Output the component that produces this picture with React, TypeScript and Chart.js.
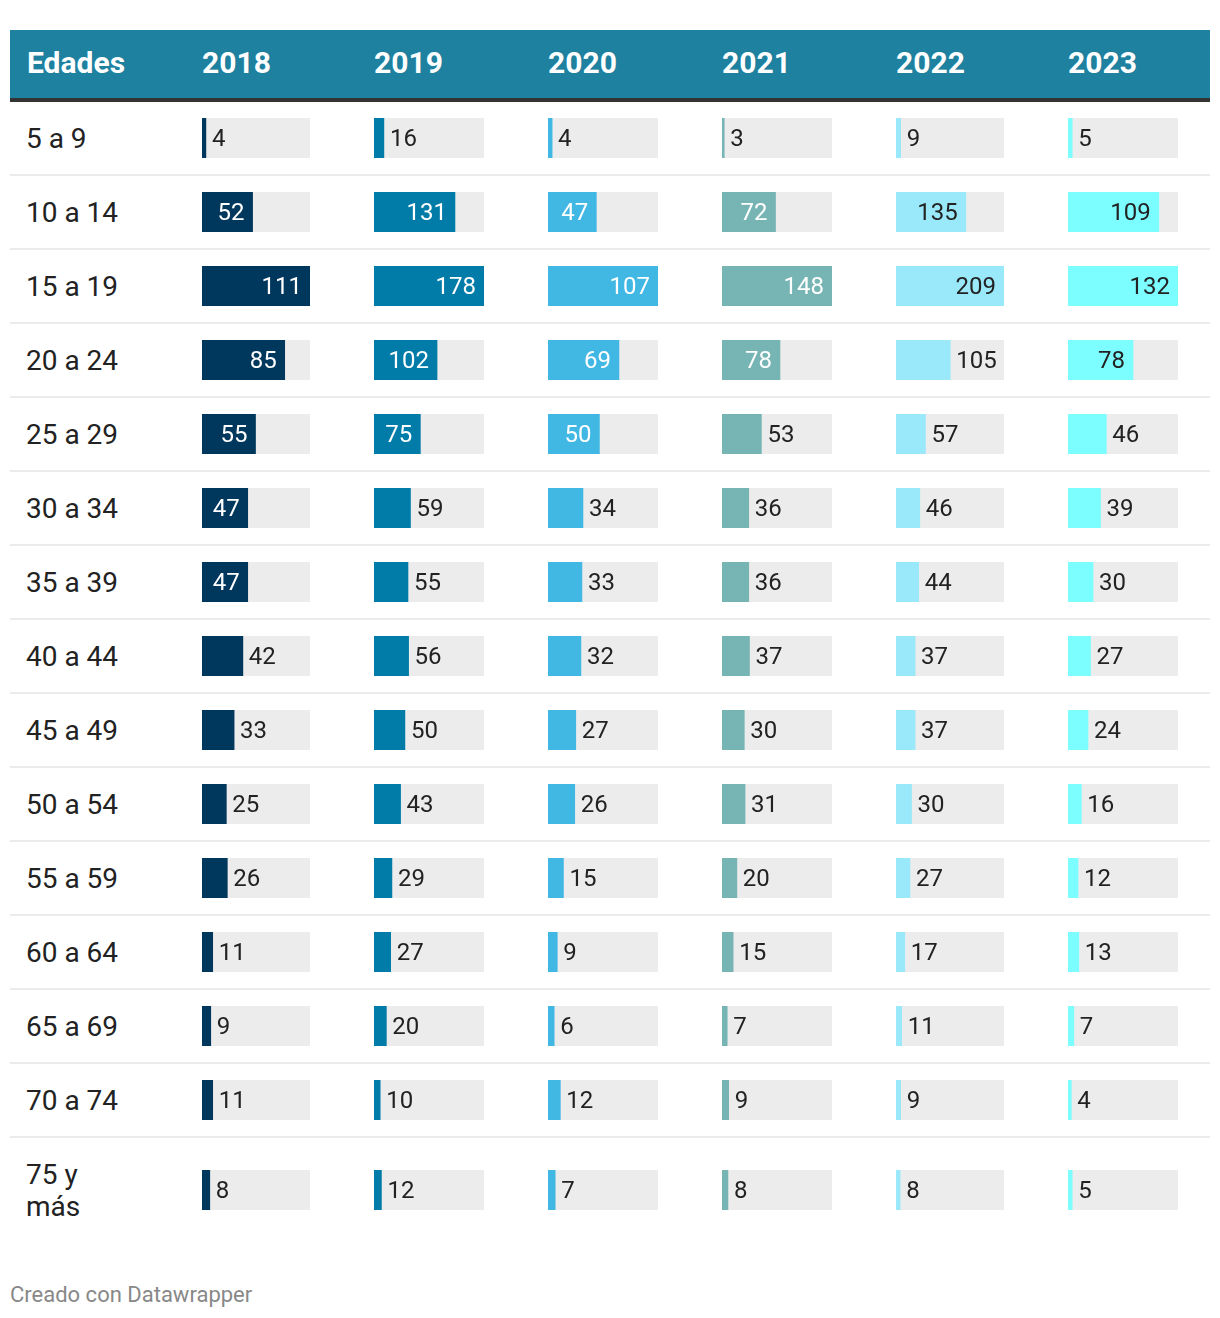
import React, { useEffect, useRef } from "react";
import { Chart, registerables } from "chart.js";

Chart.register(...registerables);

const ageGroups = [
  "5 a 9", "10 a 14", "15 a 19", "20 a 24", "25 a 29", "30 a 34", "35 a 39",
  "40 a 44", "45 a 49", "50 a 54", "55 a 59", "60 a 64", "65 a 69", "70 a 74", "75 y más",
];
const years = ["2018", "2019", "2020", "2021", "2022", "2023"];
const values2018 = [4, 52, 111, 85, 55, 47, 47, 42, 33, 25, 26, 11, 9, 11, 8];
const values2019 = [16, 131, 178, 102, 75, 59, 55, 56, 50, 43, 29, 27, 20, 10, 12];
const values2020 = [4, 47, 107, 69, 50, 34, 33, 32, 27, 26, 15, 9, 6, 12, 7];
const values2021 = [3, 72, 148, 78, 53, 36, 36, 37, 30, 31, 20, 15, 7, 9, 8];
const values2022 = [9, 135, 209, 105, 57, 46, 44, 37, 37, 30, 27, 17, 11, 9, 8];
const values2023 = [5, 109, 132, 78, 46, 39, 30, 27, 24, 16, 12, 13, 7, 4, 5];
const seriesByYear = [values2018, values2019, values2020, values2021, values2022, values2023];
const barColors = ["#00375c", "#017ba8", "#41b7e4", "#77b5b5", "#9ae9fb", "#7cfdff"];
const insideTextColors = ["#ffffff", "#ffffff", "#ffffff", "#ffffff", "#222222", "#222222"];

const FONT = "Roboto, 'Noto Sans', sans-serif";
const colWidths = [172, 174, 174, 174, 172, 142];
const barWidths = [108, 110, 110, 110, 108, 110];
const BAR_H = 40;
const LABEL_PAD = 8;

const valueLabelPlugin = {
  id: "valueLabel",
  afterDatasetsDraw(chart: any, _args: any, opts: any) {
    const meta = chart.getDatasetMeta(0);
    const bar = meta.data[0];
    if (!bar) return;
    const p = bar.getProps(["x", "y", "base"], true);
    const value = chart.data.datasets[0].data[0];
    const ctx = chart.ctx;
    ctx.save();
    ctx.font = `24px ${FONT}`;
    const y = p.y + 0.711 * 24 / 2 - 0.5;
    const txt = String(value);
    const tw = ctx.measureText(txt).width;
    const barW = p.x - p.base;
    if (barW >= tw + 2 * LABEL_PAD) {
      ctx.fillStyle = opts.insideColor;
      ctx.textAlign = "right";
      ctx.fillText(txt, p.x - LABEL_PAD, y);
    } else {
      ctx.fillStyle = "#222222";
      ctx.textAlign = "left";
      ctx.fillText(txt, p.x + 6, y);
    }
    ctx.restore();
  },
};

function BarCell(props: { value: number; max: number; color: string; insideColor: string; width: number }) {
  const ref = useRef<HTMLCanvasElement>(null);
  const { value, max, color, insideColor, width } = props;
  useEffect(() => {
    if (!ref.current) return;
    const chart = new Chart(ref.current, {
      type: "bar",
      data: {
        labels: [""],
        datasets: [
          {
            data: [value],
            backgroundColor: color,
            order: 0,
            grouped: false,
            barPercentage: 1,
            categoryPercentage: 1,
            borderWidth: 0,
          } as any,
          {
            data: [max],
            backgroundColor: "#ececec",
            order: 1,
            grouped: false,
            barPercentage: 1,
            categoryPercentage: 1,
            borderWidth: 0,
          } as any,
        ],
      },
      options: {
        indexAxis: "y",
        responsive: false,
        maintainAspectRatio: false,
        animation: false,
        events: [],
        devicePixelRatio: 1,
        layout: { padding: 0 },
        plugins: {
          legend: { display: false },
          tooltip: { enabled: false },
          valueLabel: { insideColor },
        } as any,
        scales: {
          x: { display: false, min: 0, max },
          y: { display: false },
        },
      },
      plugins: [valueLabelPlugin],
    });
    return () => chart.destroy();
  }, [value, max, color, insideColor, width]);
  return <canvas ref={ref} width={width} height={BAR_H} style={{ display: "block", width, height: BAR_H }} />;
}

export default function App() {
  const maxes = seriesByYear.map((s) => Math.max(...s));
  return (
    <div style={{ fontFamily: FONT, width: 1200, marginTop: 22, marginLeft: 2, color: "#222" }}>
      <div
        style={{
          display: "flex",
          height: 65,
          paddingBottom: 3,
          boxSizing: "content-box",
          background: "#1e81a0",
          borderBottom: "4px solid #333",
          alignItems: "center",
          color: "#fff",
          fontWeight: 700,
          fontSize: 30,
        }}
      >
        <div style={{ width: 192, paddingLeft: 17, boxSizing: "border-box" }}>Edades</div>
        {years.map((yr, i) => (
          <div key={yr} style={{ width: colWidths[i] }}>{yr}</div>
        ))}
      </div>
      {ageGroups.map((age, r) => {
        const last = r === ageGroups.length - 1;
        return (
          <div
            key={age}
            style={{
              display: "flex",
              alignItems: "center",
              height: last ? 104 : 72,
              borderBottom: last ? "none" : "2px solid #ebebeb",
            }}
          >
            <div style={{ width: 192, paddingLeft: 16, boxSizing: "border-box" }}>
              <div style={{ width: 102, fontSize: 28, lineHeight: "32.5px", paddingTop: 2 }}>{age}</div>
            </div>
            {years.map((yr, c) => (
              <div key={yr} style={{ width: colWidths[c] }}>
                <BarCell
                  value={seriesByYear[c][r]}
                  max={maxes[c]}
                  color={barColors[c]}
                  insideColor={insideTextColors[c]}
                  width={barWidths[c]}
                />
              </div>
            ))}
          </div>
        );
      })}
      <div style={{ marginTop: 40, fontSize: 22, lineHeight: "26px", color: "#888" }}>Creado con Datawrapper</div>
    </div>
  );
}
